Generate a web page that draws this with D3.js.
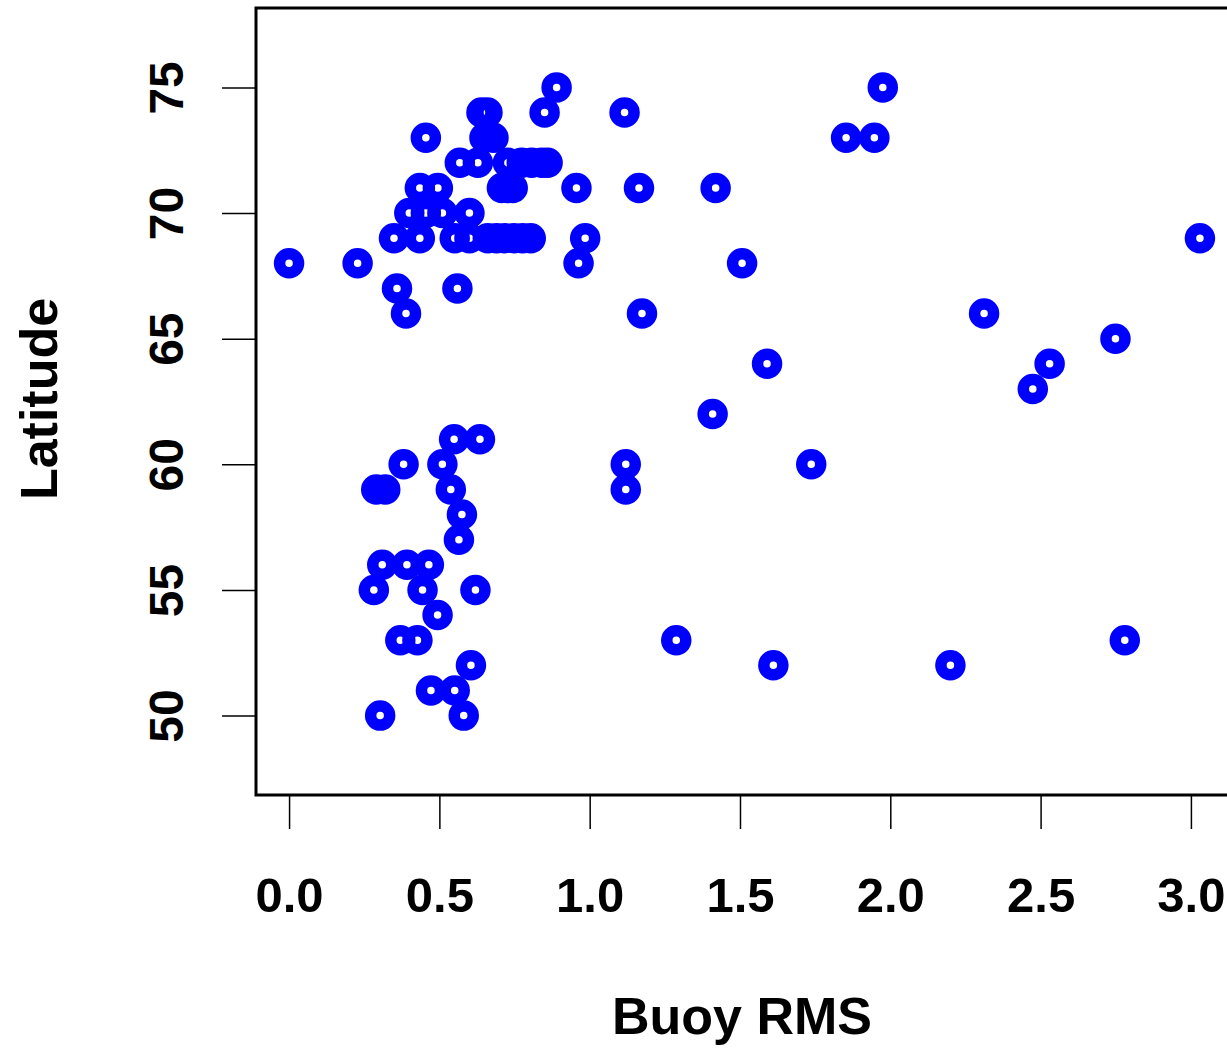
<!DOCTYPE html>
<html>
<head>
<meta charset="utf-8">
<script src="https://cdn.jsdelivr.net/npm/d3@7"></script>
<style>
html, body { margin: 0; padding: 0; background: #fff; }
svg { display: block; }
text { font-family: "Liberation Sans", Arial, sans-serif; font-weight: bold; fill: #000; }
</style>
</head>
<body>
<svg id="chart" width="1227" height="1048"></svg>
<script>
// Data: Buoy RMS (x) by Latitude (y)
const lat75 = [0.89, 1.975];
const lat74 = [0.64, 0.66, 0.85, 1.116];
const lat73 = [0.455, 0.65, 0.68, 1.853, 1.947];
const lat72 = [0.568, 0.628, 0.728, 0.774, 0.807, 0.841, 0.86];
const lat71 = [0.435, 0.495, 0.708, 0.727, 0.744, 0.956, 1.164, 1.419];
const lat70 = [0.40, 0.455, 0.51, 0.60];
const lat69 = [0.349, 0.435, 0.551, 0.60, 0.661, 0.69, 0.718, 0.748, 0.777, 0.804, 0.985, 3.03];
const lat68 = [0.0, 0.228, 0.963, 1.507];
const lat67 = [0.359, 0.56];
const lat66 = [0.389, 1.174, 2.312];
const lat65 = [2.749];
const lat64 = [1.59, 2.53];
const lat63 = [2.474];
const lat62 = [1.409];
const lat61 = [0.549, 0.635];
const lat60 = [0.381, 0.51, 1.12, 1.737];
const lat59 = [0.29, 0.32, 0.538, 1.12];
const lat58 = [0.575];
const lat57 = [0.565];
const lat56 = [0.31, 0.392, 0.465];
const lat55 = [0.282, 0.444, 0.62];
const lat54 = [0.494];
const lat53 = [0.37, 0.427, 1.288, 2.78];
const lat52 = [0.605, 1.611, 2.20];
const lat51 = [0.472, 0.551];
const lat50 = [0.303, 0.581];

const xTicks = [0.0, 0.5, 1.0, 1.5, 2.0, 2.5, 3.0];
const yTicks = [50, 55, 60, 65, 70, 75];
const xTitle = "Buoy RMS";
const yTitle = "Latitude";

const rows = [
  [75, lat75], [74, lat74], [73, lat73], [72, lat72], [71, lat71], [70, lat70],
  [69, lat69], [68, lat68], [67, lat67], [66, lat66], [65, lat65], [64, lat64],
  [63, lat63], [62, lat62], [61, lat61], [60, lat60], [59, lat59], [58, lat58],
  [57, lat57], [56, lat56], [55, lat55], [54, lat54], [53, lat53], [52, lat52],
  [51, lat51], [50, lat50]
];
const points = [];
rows.forEach(([lat, xs]) => xs.forEach(v => points.push({x: v, lat})));

const svg = d3.select("#chart");
const pLeft = 256, pTop = 8, pBottom = 795, pRight = 1236;

const x = d3.scaleLinear().domain([-0.11, 3.15]).range([pLeft, pRight]);
const y = d3.scaleLinear().domain([46.84, 78.16]).range([pBottom, pTop]);

// points
svg.append("g").selectAll("circle").data(points).enter().append("circle")
  .attr("cx", d => x(d.x))
  .attr("cy", d => y(d.lat))
  .attr("r", 9.5)
  .attr("fill", "none")
  .attr("stroke", "#0000ff")
  .attr("stroke-width", 11.5);

// box
svg.append("rect")
  .attr("x", pLeft).attr("y", pTop)
  .attr("width", pRight - pLeft).attr("height", pBottom - pTop)
  .attr("fill", "none").attr("stroke", "#000").attr("stroke-width", 3);

// x axis
const xAxis = d3.axisBottom(x).tickValues(xTicks).tickSize(33)
  .tickFormat(d3.format(".1f"));
const gx = svg.append("g").attr("transform", `translate(0,${pBottom + 1})`).call(xAxis);
gx.select(".domain").remove();
gx.selectAll(".tick line").attr("stroke", "#000").attr("stroke-width", 1.5);
gx.selectAll(".tick text")
  .attr("font-size", 49).attr("font-weight", "bold").attr("fill", "#000")
  .attr("y", 116).attr("dy", 0)
  .style("font-family", "'Liberation Sans', Arial, sans-serif");

// y axis
const yAxis = d3.axisLeft(y).tickValues(yTicks).tickSize(33).tickFormat(d3.format("d"));
const gy = svg.append("g").attr("transform", `translate(${pLeft - 1},0)`).call(yAxis);
gy.select(".domain").remove();
gy.selectAll(".tick line").attr("stroke", "#000").attr("stroke-width", 1.5);
gy.selectAll(".tick text")
  .attr("font-size", 48).attr("font-weight", "bold").attr("fill", "#000")
  .attr("x", 0).attr("y", 0).attr("dy", 0)
  .attr("text-anchor", "middle")
  .attr("transform", "translate(-72,0) rotate(-90)")
  .style("font-family", "'Liberation Sans', Arial, sans-serif");

// titles
svg.append("text")
  .attr("x", 742).attr("y", 1034)
  .attr("text-anchor", "middle")
  .attr("font-size", 52)
  .text(xTitle);

svg.append("text")
  .attr("transform", "translate(57,399) rotate(-90)")
  .attr("text-anchor", "middle")
  .attr("font-size", 52)
  .text(yTitle);
</script>
</body>
</html>
